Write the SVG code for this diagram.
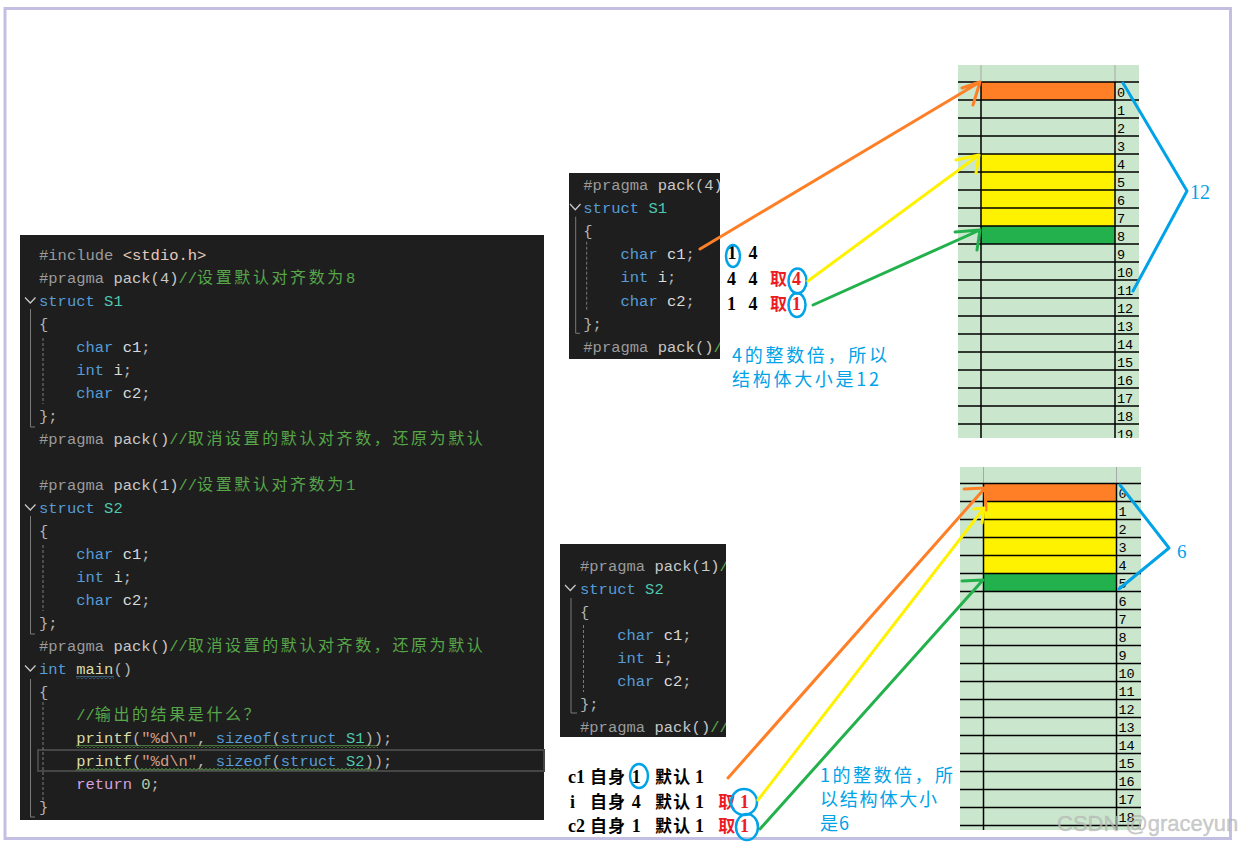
<svg xmlns="http://www.w3.org/2000/svg" width="1242" height="843" viewBox="0 0 1242 843">
<style>
.code{font-family:"Liberation Mono",monospace;font-size:15.5px}
.cj{font-family:"Noto Sans CJK SC",sans-serif;font-size:16px;letter-spacing:2.6px}
.pp{fill:#9b9b9b}.pk{fill:#c8c8c8}.cm{fill:#57a64a}.kw{fill:#569cd6}.ty{fill:#4ec9b0}.id{fill:#dadada}.pu{fill:#b4b4b4}.fn{fill:#dcdcaa}.st{fill:#d69d85}.rt{fill:#d8a0df}.nu{fill:#b5cea8}.inc{fill:#e8c9bb}
.panel{fill:#1e1e1e}
.guide{stroke:#7a7a7a;stroke-width:1;fill:none}
.dash{stroke:#7a7a7a;stroke-width:1;fill:none;stroke-dasharray:3 2}
.chev{stroke:#c8c8c8;stroke-width:1.3;fill:none}
.an{font-family:"Liberation Serif",serif;font-size:18px;font-weight:bold;fill:#000}
.ancj{font-family:"Noto Sans CJK SC",sans-serif;font-size:17px;font-weight:bold;fill:#000}
.red{fill:#ed1c24}
.bl{font-family:"Noto Sans CJK SC",sans-serif;font-size:18px;fill:#00a2e8}
.circ{fill:none;stroke:#00a2e8;stroke-width:2.5}
.gl{stroke:#000;stroke-width:1.5;fill:none}
.gh{stroke:#a8a8a8;stroke-width:1;fill:none}
.num{font-family:"Liberation Mono",monospace;font-size:13.5px;fill:#000}
.ar{fill:none;stroke-width:3;stroke-linecap:round;stroke-linejoin:round}
</style>
<defs>
<clipPath id="cpTop"><rect x="569" y="173" width="151" height="186"/></clipPath>
<clipPath id="cpBot"><rect x="560" y="544" width="166" height="193"/></clipPath>
<clipPath id="cpG1"><rect x="958" y="65" width="181" height="373"/></clipPath>
<clipPath id="cpG2"><rect x="960" y="467" width="181" height="363"/></clipPath>
<pattern id="zigG" patternUnits="userSpaceOnUse" x="76" y="0" width="4" height="3"><path d="M0 2.5L2 0.5L4 2.5" fill="none" stroke="#6ec05a" stroke-width="1"/></pattern>
<pattern id="zigB" patternUnits="userSpaceOnUse" x="76" y="0" width="4" height="3"><path d="M0 2.5L2 0.5L4 2.5" fill="none" stroke="#5a9fd0" stroke-width="1"/></pattern>
</defs>
<rect x="0" y="0" width="1242" height="843" fill="#fff"/>
<rect x="5" y="8.5" width="1225.5" height="830" fill="none" stroke="#c3bfe3" stroke-width="3"/>

<g id="code-main">
<rect class="panel" x="20" y="235" width="524" height="585"/>
<rect x="38" y="750" width="506" height="21" fill="none" stroke="#464646" stroke-width="2"/>
<path class="chev" d="M25 297.5L30.3 303L35.5 297.5M25 504.5L30.3 510L35.5 504.5M25 665.5L30.3 671L35.5 665.5"/>
<path class="guide" d="M30.5 309V427H35M30.5 516V634H35M30.5 679V817H35"/>
<path class="dash" d="M43 338V404M43 545V611M43 702V803"/>
<text class="code" y="260"><tspan class="pp" x="39">#include</tspan><tspan class="inc" x="122.7">&lt;stdio.h&gt;</tspan></text>
<text class="code" y="283"><tspan class="pp" x="39">#pragma</tspan><tspan class="pk" x="113.4">pack(4)</tspan><tspan class="cm" x="178.5">//</tspan><tspan class="cj cm" x="197.1">设置默认对齐数为</tspan><tspan class="cm" x="345.9">8</tspan></text>
<text class="code" y="306"><tspan class="kw" x="39">struct</tspan><tspan class="ty" x="104.1">S1</tspan></text>
<text class="code pu" x="39" y="329">{</text>
<text class="code" y="352"><tspan class="kw" x="76.2">char</tspan><tspan class="id" x="122.7">c1</tspan><tspan class="pu">;</tspan></text>
<text class="code" y="375"><tspan class="kw" x="76.2">int</tspan><tspan class="id" x="113.4">i</tspan><tspan class="pu">;</tspan></text>
<text class="code" y="398"><tspan class="kw" x="76.2">char</tspan><tspan class="id" x="122.7">c2</tspan><tspan class="pu">;</tspan></text>
<text class="code pu" x="39" y="421">};</text>
<text class="code" y="444"><tspan class="pp" x="39">#pragma</tspan><tspan class="pk" x="113.4">pack()</tspan><tspan class="cm" x="169.2">//</tspan><tspan class="cj cm" x="187.8">取消设置的默认对齐数，还原为默认</tspan></text>
<text class="code" y="490"><tspan class="pp" x="39">#pragma</tspan><tspan class="pk" x="113.4">pack(1)</tspan><tspan class="cm" x="178.5">//</tspan><tspan class="cj cm" x="197.1">设置默认对齐数为</tspan><tspan class="cm" x="345.9">1</tspan></text>
<text class="code" y="513"><tspan class="kw" x="39">struct</tspan><tspan class="ty" x="104.1">S2</tspan></text>
<text class="code pu" x="39" y="536">{</text>
<text class="code" y="559"><tspan class="kw" x="76.2">char</tspan><tspan class="id" x="122.7">c1</tspan><tspan class="pu">;</tspan></text>
<text class="code" y="582"><tspan class="kw" x="76.2">int</tspan><tspan class="id" x="113.4">i</tspan><tspan class="pu">;</tspan></text>
<text class="code" y="605"><tspan class="kw" x="76.2">char</tspan><tspan class="id" x="122.7">c2</tspan><tspan class="pu">;</tspan></text>
<text class="code pu" x="39" y="628">};</text>
<text class="code" y="651"><tspan class="pp" x="39">#pragma</tspan><tspan class="pk" x="113.4">pack()</tspan><tspan class="cm" x="169.2">//</tspan><tspan class="cj cm" x="187.8">取消设置的默认对齐数，还原为默认</tspan></text>
<text class="code" y="674"><tspan class="kw" x="39">int</tspan><tspan class="fn" x="76.2">main</tspan><tspan class="pu" x="113.4">()</tspan></text>
<text class="code pu" x="39" y="697">{</text>
<text class="code" y="720"><tspan class="cm" x="76.2">//</tspan><tspan class="cj cm" x="94.8">输出的结果是什么？</tspan></text>
<text class="code" y="743"><tspan class="fn" x="76.2">printf</tspan><tspan class="pu" x="132">(</tspan><tspan class="st" x="141.3">"%d\n"</tspan><tspan class="pu" x="197.1">,</tspan><tspan class="kw" x="215.7">sizeof</tspan><tspan class="pu" x="271.5">(</tspan><tspan class="kw" x="280.8">struct</tspan><tspan class="ty" x="345.9">S1</tspan><tspan class="pu" x="364.5">));</tspan></text>
<text class="code" y="766"><tspan class="fn" x="76.2">printf</tspan><tspan class="pu" x="132">(</tspan><tspan class="st" x="141.3">"%d\n"</tspan><tspan class="pu" x="197.1">,</tspan><tspan class="kw" x="215.7">sizeof</tspan><tspan class="pu" x="271.5">(</tspan><tspan class="kw" x="280.8">struct</tspan><tspan class="ty" x="345.9">S2</tspan><tspan class="pu" x="364.5">));</tspan></text>
<text class="code" y="789"><tspan class="rt" x="76.2">return</tspan><tspan class="nu" x="141.3">0</tspan><tspan class="pu">;</tspan></text>
<text class="code pu" x="39" y="812">}</text>
<rect x="76" y="676" width="38" height="3" fill="url(#zigB)"/>
<rect x="76" y="745" width="302" height="3" fill="url(#zigG)"/>
<rect x="76" y="768" width="302" height="3" fill="url(#zigG)"/>
</g>

<g id="code-s1">
<rect class="panel" x="569" y="173" width="151" height="186"/>
<g clip-path="url(#cpTop)">
<path class="chev" d="M570 204L575.3 209.7L580.5 204"/>
<path class="guide" d="M575.7 216.7V333.3H580"/>
<path class="dash" d="M586.7 241.7V310"/>
<text class="code" y="189.5"><tspan class="pp" x="583.3">#pragma</tspan><tspan class="pk" x="657.7">pack(4)</tspan></text>
<text class="code" y="212.7"><tspan class="kw" x="583.3">struct</tspan><tspan class="ty" x="648.4">S1</tspan></text>
<text class="code pu" x="583.3" y="235.9">{</text>
<text class="code" y="259.1"><tspan class="kw" x="620.5">char</tspan><tspan class="id" x="667">c1</tspan><tspan class="pu">;</tspan></text>
<text class="code" y="282.3"><tspan class="kw" x="620.5">int</tspan><tspan class="id" x="657.7">i</tspan><tspan class="pu">;</tspan></text>
<text class="code" y="305.5"><tspan class="kw" x="620.5">char</tspan><tspan class="id" x="667">c2</tspan><tspan class="pu">;</tspan></text>
<text class="code pu" x="583.3" y="328.7">};</text>
<text class="code" y="351.9"><tspan class="pp" x="583.3">#pragma</tspan><tspan class="pk" x="657.7">pack()</tspan><tspan class="cm" x="713.5">/</tspan></text>
</g>
</g>

<g id="code-s2">
<rect class="panel" x="560" y="544" width="166" height="193"/>
<g clip-path="url(#cpBot)">
<path class="chev" d="M565 585L570.3 590.5L575.5 585"/>
<path class="guide" d="M571 598V713H577"/>
<path class="dash" d="M583.5 625V692"/>
<text class="code" y="570.5"><tspan class="pp" x="580">#pragma</tspan><tspan class="pk" x="654.4">pack(1)</tspan><tspan class="cm" x="719.5">/</tspan></text>
<text class="code" y="593.5"><tspan class="kw" x="580">struct</tspan><tspan class="ty" x="645.1">S2</tspan></text>
<text class="code pu" x="580" y="616.5">{</text>
<text class="code" y="639.5"><tspan class="kw" x="617.2">char</tspan><tspan class="id" x="663.7">c1</tspan><tspan class="pu">;</tspan></text>
<text class="code" y="662.5"><tspan class="kw" x="617.2">int</tspan><tspan class="id" x="654.4">i</tspan><tspan class="pu">;</tspan></text>
<text class="code" y="685.5"><tspan class="kw" x="617.2">char</tspan><tspan class="id" x="663.7">c2</tspan><tspan class="pu">;</tspan></text>
<text class="code pu" x="580" y="708.5">};</text>
<text class="code" y="731.5"><tspan class="pp" x="580">#pragma</tspan><tspan class="pk" x="654.4">pack()</tspan><tspan class="cm" x="710.2">//</tspan></text>
</g>
</g>

<g id="grid-s1" clip-path="url(#cpG1)">
<rect x="958" y="65" width="181" height="373" fill="#cae6cc"/>
<rect x="981" y="82" width="134" height="18" fill="#ff7f27"/>
<rect x="981" y="154" width="134" height="72" fill="#fff200"/>
<rect x="981" y="226" width="134" height="18" fill="#22b14c"/>
<path class="gh" d="M981 65V82M1115 65V82"/>
<path class="gl" d="M958 82H1139M958 100H1139M958 118H1139M958 136H1139M958 154H1139M958 172H1139M958 190H1139M958 208H1139M958 226H1139M958 244H1139M958 262H1139M958 280H1139M958 298H1139M958 316H1139M958 334H1139M958 352H1139M958 370H1139M958 388H1139M958 406H1139M958 424H1139M981 82V438M1115 82V438"/>
<text class="num" x="1117" y="96.5">0</text>
<text class="num" x="1117" y="114.5">1</text>
<text class="num" x="1117" y="132.5">2</text>
<text class="num" x="1117" y="150.5">3</text>
<text class="num" x="1117" y="168.5">4</text>
<text class="num" x="1117" y="186.5">5</text>
<text class="num" x="1117" y="204.5">6</text>
<text class="num" x="1117" y="222.5">7</text>
<text class="num" x="1117" y="240.5">8</text>
<text class="num" x="1117" y="258.5">9</text>
<text class="num" x="1117" y="276.5">10</text>
<text class="num" x="1117" y="294.5">11</text>
<text class="num" x="1117" y="312.5">12</text>
<text class="num" x="1117" y="330.5">13</text>
<text class="num" x="1117" y="348.5">14</text>
<text class="num" x="1117" y="366.5">15</text>
<text class="num" x="1117" y="384.5">16</text>
<text class="num" x="1117" y="402.5">17</text>
<text class="num" x="1117" y="420.5">18</text>
<text class="num" x="1117" y="438.5">19</text>
</g>

<g id="grid-s2" clip-path="url(#cpG2)">
<rect x="960" y="467" width="181" height="363" fill="#cae6cc"/>
<rect x="983.5" y="483.5" width="133" height="18" fill="#ff7f27"/>
<rect x="983.5" y="501.5" width="133" height="72" fill="#fff200"/>
<rect x="983.5" y="573.5" width="133" height="18" fill="#22b14c"/>
<path class="gh" d="M983.5 467V483.5M1116.5 467V483.5"/>
<path class="gl" d="M960 483.5H1141M960 501.5H1141M960 519.5H1141M960 537.5H1141M960 555.5H1141M960 573.5H1141M960 591.5H1141M960 609.5H1141M960 627.5H1141M960 645.5H1141M960 663.5H1141M960 681.5H1141M960 699.5H1141M960 717.5H1141M960 735.5H1141M960 753.5H1141M960 771.5H1141M960 789.5H1141M960 807.5H1141M960 825.5H1141M983.5 483.5V830M1116.5 483.5V830"/>
<text class="num" x="1118.5" y="498">0</text>
<text class="num" x="1118.5" y="516">1</text>
<text class="num" x="1118.5" y="534">2</text>
<text class="num" x="1118.5" y="552">3</text>
<text class="num" x="1118.5" y="570">4</text>
<text class="num" x="1118.5" y="588">5</text>
<text class="num" x="1118.5" y="606">6</text>
<text class="num" x="1118.5" y="624">7</text>
<text class="num" x="1118.5" y="642">8</text>
<text class="num" x="1118.5" y="660">9</text>
<text class="num" x="1118.5" y="678">10</text>
<text class="num" x="1118.5" y="696">11</text>
<text class="num" x="1118.5" y="714">12</text>
<text class="num" x="1118.5" y="732">13</text>
<text class="num" x="1118.5" y="750">14</text>
<text class="num" x="1118.5" y="768">15</text>
<text class="num" x="1118.5" y="786">16</text>
<text class="num" x="1118.5" y="804">17</text>
<text class="num" x="1118.5" y="822">18</text>
</g>

<g id="notes-s1">
<text class="an" y="259"><tspan x="727.5">1</tspan><tspan x="748.5">4</tspan></text>
<text class="an" y="285"><tspan x="727">4</tspan><tspan x="748.5">4</tspan><tspan class="red" x="792">4</tspan></text>
<text class="ancj red" x="770" y="285">取</text>
<text class="an" y="310"><tspan x="727">1</tspan><tspan x="748.5">4</tspan><tspan class="red" x="792">1</tspan></text>
<text class="ancj red" x="770" y="310">取</text>
<ellipse class="circ" cx="733" cy="256" rx="7" ry="11"/>
<ellipse class="circ" cx="797.5" cy="281" rx="9" ry="12.5"/>
<ellipse class="circ" cx="797" cy="305" rx="8.5" ry="12"/>
<text class="bl" x="732" y="362" textLength="155" lengthAdjust="spacing">4的整数倍，所以</text>
<text class="bl" x="732" y="386" textLength="147" lengthAdjust="spacing">结构体大小是12</text>
</g>

<g id="notes-s2">
<text class="an" y="783"><tspan x="568">c1</tspan><tspan x="631.7">1</tspan><tspan x="695">1</tspan></text>
<text class="ancj" y="783"><tspan x="590">自</tspan><tspan x="608">身</tspan><tspan x="655">默</tspan><tspan x="673.3">认</tspan></text>
<text class="an" y="808"><tspan x="570">i</tspan><tspan x="631.7">4</tspan><tspan x="695">1</tspan><tspan class="red" x="740">1</tspan></text>
<text class="ancj" y="808"><tspan x="590">自</tspan><tspan x="608">身</tspan><tspan x="655">默</tspan><tspan x="673.3">认</tspan><tspan class="red" x="718.3">取</tspan></text>
<text class="an" y="832"><tspan x="568">c2</tspan><tspan x="631.7">1</tspan><tspan x="695">1</tspan><tspan class="red" x="740">1</tspan></text>
<text class="ancj" y="832"><tspan x="590">自</tspan><tspan x="608">身</tspan><tspan x="655">默</tspan><tspan x="673.3">认</tspan><tspan class="red" x="718.3">取</tspan></text>
<ellipse class="circ" cx="639" cy="776" rx="9" ry="12"/>
<ellipse class="circ" cx="744" cy="802" rx="13" ry="13"/>
<ellipse class="circ" cx="747" cy="827" rx="11" ry="13"/>
<text class="bl" x="820" y="782" textLength="133" lengthAdjust="spacing">1的整数倍，所</text>
<text class="bl" x="820" y="806" textLength="117" lengthAdjust="spacing">以结构体大小</text>
<text class="bl" x="820" y="830" textLength="29" lengthAdjust="spacing">是6</text>
</g>

<g id="size-labels">
<text x="1190" y="199" font-family="Liberation Serif,serif" font-size="20" fill="#00a2e8">12</text>
<text x="1177" y="558" font-family="Liberation Serif,serif" font-size="19" fill="#00a2e8">6</text>
</g>

<g id="connectors">
<path class="ar" stroke="#ff7f27" d="M700 249L980 82M962 88L980 82L973 105"/>
<path class="ar" stroke="#fff200" d="M808 281L979 155M956 160L979 155L976 173"/>
<path class="ar" stroke="#22b14c" d="M813 305L980 230M955 232L980 230L977 250"/>
<path class="ar" stroke="#ff7f27" d="M728 778L985 488M964 489L985 488L986 510"/>
<path class="ar" stroke="#fff200" d="M758 800L984 508M974 509L984 508L982 523"/>
<path class="ar" stroke="#22b14c" d="M760 829L983 580M962 581L983 580"/>
<path class="ar" stroke="#00a2e8" d="M1123 83L1187 191L1133 291"/>
<path class="ar" stroke="#00a2e8" d="M1120 485L1169 548L1119 589"/>
</g>

<text x="1057" y="831" font-family="Liberation Sans,sans-serif" font-size="22" fill="#bdbdbd" fill-opacity="0.75" stroke="#9a9a9a" stroke-opacity="0.35" stroke-width="0.6">CSDN @graceyun</text>
</svg>
